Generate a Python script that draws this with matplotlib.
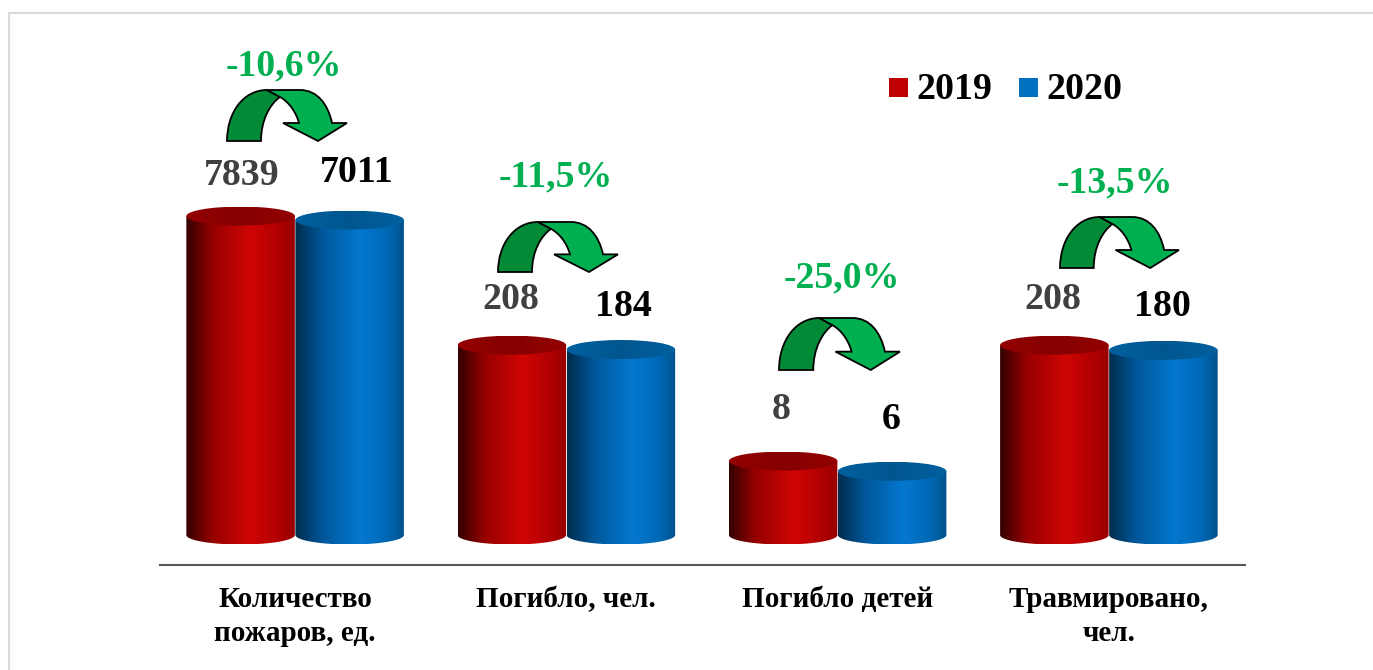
import numpy as np
import matplotlib
matplotlib.use("Agg")
import matplotlib.pyplot as plt
from matplotlib.colors import LinearSegmentedColormap
from matplotlib.patches import Ellipse, PathPatch, Rectangle
from matplotlib.path import Path

plt.rcParams['font.family'] = ['Liberation Serif', 'DejaVu Serif']

categories = ["Количество\nпожаров, ед.", "Погибло, чел.", "Погибло детей", "Травмировано,\nчел."]
values_2019 = [7839, 208, 8, 208]
values_2020 = [7011, 184, 6, 180]
changes = ["-10,6%", "-11,5%", "-25,0%", "-13,5%"]

W, H = 1373, 670

# where the labels sit, in pixels (x centre, baseline)
pos_2019 = [(242, 185), (511, 309), (781, 419), (1053, 309)]
pos_2020 = [(357, 182), (623, 316), (891, 429), (1162, 316)]
pos_change = [(284, 75), (556, 186), (842, 287), (1115, 192)]
arrow_boxes = [(227, 90, 347, 141), (498, 222, 618, 272), (779, 318, 900, 370), (1060, 217, 1179, 268)]

red_body = LinearSegmentedColormap.from_list("red_body", [
    (0, "#340000"), (0.25, "#980000"), (0.6, "#d00505"), (0.85, "#b00000"), (1, "#980000")])
blue_body = LinearSegmentedColormap.from_list("blue_body", [
    (0, "#002c4c"), (0.25, "#00579a"), (0.6, "#0478d0"), (0.85, "#0068b5"), (1, "#00528c")])
red_top = LinearSegmentedColormap.from_list("red_top", ["#940000", "#850000", "#940000"])
blue_top = LinearSegmentedColormap.from_list("blue_top", ["#00609f", "#00568f", "#00609f"])

fig = plt.figure(figsize=(W / 100, H / 100), dpi=100)
fig.patch.set_facecolor("white")

# main axes, log scale: value 1 sits at pixel 535, 81.9 px per decade
left, right, top_px, bottom_px = 159.5, 1244.5, 20, 565
ax = fig.add_axes([left / W, 1 - bottom_px / H, (right - left) / W, (bottom_px - top_px) / H])
ax.set_yscale("log")
ax.set_ylim(10 ** ((535 - bottom_px) / 81.9), 10 ** ((535 - top_px) / 81.9))
ax.set_xlim(-0.5, 3.5)
ax.set_xticks(range(len(categories)))
ax.set_xticklabels(categories, fontsize=21, fontweight="bold", color="black", linespacing=1.34)
ax.tick_params(axis="x", length=0, pad=15)
ax.set_yticks([])
ax.minorticks_off()
ax.tick_params(axis="y", which="both", left=False, labelleft=False)
for s in ["top", "left", "right"]:
    ax.spines[s].set_visible(False)
ax.spines["bottom"].set_color("#595959")
ax.spines["bottom"].set_linewidth(1.5)
ax.patch.set_alpha(0)

# overlay in pixel coordinates for the shaded cylinders and the arrows
ov = fig.add_axes([0, 0, 1, 1])
ov.set_xlim(0, W)
ov.set_ylim(H, 0)
ov.axis("off")
ov.patch.set_alpha(0)


def to_px(x, v):
    px, py = ax.transData.transform((x, v))
    return px, H - py


def cylinder(x, value, width, body_cmap, top_cmap):
    x0, base = to_px(x - width / 2, 1)
    x1, top = to_px(x + width / 2, value)
    half_w = (x1 - x0) / 2
    cx = (x0 + x1) / 2
    ry = 9.5
    t = np.linspace(0, np.pi, 60)
    # body outline: straight sides, rounded bottom
    xs = np.concatenate([[x0], cx - half_w * np.cos(t), [x1]])
    ys = np.concatenate([[top], base + ry * np.sin(t), [top]])
    grad = np.linspace(0, 1, 256).reshape(1, -1)
    im = ov.imshow(grad, cmap=body_cmap, extent=(x0, x1, base + ry, top), aspect="auto", zorder=2)
    im.set_clip_path(PathPatch(Path(np.column_stack([xs, ys])), transform=ov.transData))
    lid = Ellipse((cx, top), 2 * half_w, 2 * ry, transform=ov.transData)
    im2 = ov.imshow(grad, cmap=top_cmap, extent=(x0, x1, top + ry, top - ry), aspect="auto", zorder=3)
    im2.set_clip_path(lid)


def arrow(box):
    x0, y0, x1, y1 = box
    sx, sy = (x1 - x0) / 120, (y1 - y0) / 51
    C = Path.CURVE4
    L = Path.LINETO
    M = Path.MOVETO
    back_pts = [(0, 51), (0, 23), (16, 0), (40, 0), (53, 7), (43, 14), (34, 30), (34, 51), (0, 51)]
    back_code = [M, C, C, C, L, C, C, C, Path.CLOSEPOLY]
    front_pts = [(40, 0), (73, 0), (90, 0), (101, 14), (105, 33), (120, 33), (91, 51), (56, 33), (72, 33),
                 (69, 22), (62, 12), (53, 7), (40, 0)]
    front_code = [M, L, C, C, C, L, L, L, L, C, C, C, Path.CLOSEPOLY]
    for pts, code, col in [(back_pts, back_code, "#038A37"), (front_pts, front_code, "#00B050")]:
        p = [(x0 + a * sx, y0 + b * sy) for a, b in pts]
        ov.add_patch(PathPatch(Path(p, code), facecolor=col, edgecolor="black", lw=1.3, joinstyle="miter", zorder=4))


bar_w = 0.4
for i in range(len(categories)):
    cylinder(i - bar_w / 2 - 0.001, values_2019[i], bar_w, red_body, red_top)
    cylinder(i + bar_w / 2 + 0.001, values_2020[i], bar_w, blue_body, blue_top)
    arrow(arrow_boxes[i])
    ov.text(pos_2019[i][0], pos_2019[i][1], str(values_2019[i]), ha="center", va="baseline",
            fontsize=27.3, fontweight="bold", color="#404040", zorder=5)
    ov.text(pos_2020[i][0], pos_2020[i][1], str(values_2020[i]), ha="center", va="baseline",
            fontsize=27.3, fontweight="bold", color="black", zorder=5)
    ov.text(pos_change[i][0], pos_change[i][1], changes[i], ha="center", va="baseline",
            fontsize=27.2, fontweight="bold", color="#00B050", zorder=5)

ov.set_xlim(0, W)
ov.set_ylim(H, 0)

# legend
ov.add_patch(Rectangle((889, 78), 19, 19, facecolor="#C00000", edgecolor="none"))
ov.add_patch(Rectangle((1019, 78), 19, 19, facecolor="#0070C0", edgecolor="none"))
ov.text(916, 99, "2019", ha="left", va="baseline", fontsize=27.3, fontweight="bold", color="black")
ov.text(1046, 99, "2020", ha="left", va="baseline", fontsize=27.3, fontweight="bold", color="black")

# chart frame, only top and left show
ov.plot([9, 9, W], [H, 13, 13], color="#D9D9D9", lw=1.5, solid_joinstyle="miter", zorder=1)

fig.savefig("out.png", dpi=100)
